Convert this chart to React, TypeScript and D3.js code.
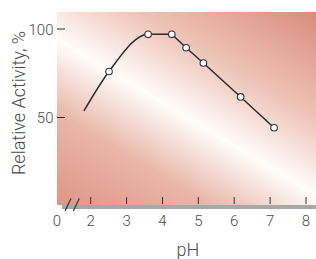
import { useEffect, useRef } from "react"
import { select, scaleLinear, line, curveMonotoneX, curveLinear } from "d3"

// pH on x, relative activity (%) on y
const risePH = [1.81, 2.51, 3.6, 4.26]
const riseActivity = [53.7, 76, 97, 97]
const fallPH = [4.26, 4.66, 5.14, 6.18, 7.11]
const fallActivity = [97, 89.4, 80.8, 61.6, 44.2]
const markerPH = [2.51, 3.6, 4.26, 4.66, 5.14, 6.18, 7.11]
const markerActivity = [76, 97, 97, 89.4, 80.8, 61.6, 44.2]
const xTicks = [2, 3, 4, 5, 6, 7, 8]
const yTicks = [50, 100]

const App = () => {
  const svgRef = useRef<SVGSVGElement>(null)

  useEffect(() => {
    const width = 316
    const left = 57
    const top = 12
    const bottom = 205
    const font = "Roboto, 'Liberation Sans', Arial, sans-serif"

    const svg = select(svgRef.current)
    svg.selectAll("*").remove()

    const x = scaleLinear().domain([2, 8]).range([90.7, 306])
    const y = scaleLinear().domain([0, 100]).range([206, 29])

    // diagonal background gradient with a white streak
    const cx = 183, cy = 115
    const nx = 0.515, ny = -0.858, d = 160
    const grad = svg.append("defs").append("linearGradient")
      .attr("id", "bg")
      .attr("gradientUnits", "userSpaceOnUse")
      .attr("x1", cx - nx * d).attr("y1", cy - ny * d)
      .attr("x2", cx + nx * d).attr("y2", cy + ny * d)
    const stops: [number, string][] = [
      [0, "#db8e7d"], [0.3, "#e9b6a8"], [0.5, "#fffcfa"], [0.7, "#eec4b8"], [1, "#d98a79"]
    ]
    stops.forEach(([o, c]) => grad.append("stop").attr("offset", o).attr("stop-color", c))

    svg.append("rect")
      .attr("x", left).attr("y", top)
      .attr("width", width - left).attr("height", bottom - top)
      .attr("fill", "url(#bg)")

    // gray x axis bar
    svg.append("rect")
      .attr("x", 62).attr("y", bottom)
      .attr("width", width - 62).attr("height", 4)
      .attr("fill", "#a8a8aa")

    // axis break
    ;[65, 73.3].forEach(bx => {
      svg.append("line")
        .attr("x1", bx).attr("y1", 211).attr("x2", bx + 6).attr("y2", 198.5)
        .attr("stroke", "#333").attr("stroke-width", 1.2)
    })

    svg.selectAll(".xtick").data(xTicks).join("line")
      .attr("class", "xtick")
      .attr("x1", d => x(d)).attr("x2", d => x(d))
      .attr("y1", 197).attr("y2", 204)
      .attr("stroke", "#333").attr("stroke-width", 1)

    const label = (sel: any, size: number) =>
      sel.style("font-family", font).style("font-size", size + "px")
        .style("font-weight", 300).attr("fill", "#4a4a4a")

    svg.selectAll(".xlabel").data(xTicks).join("text")
      .attr("class", "xlabel")
      .attr("x", d => x(d)).attr("y", 225.5)
      .attr("text-anchor", "middle")
      .call(label, 15)
      .text(d => d)

    svg.append("text")
      .attr("x", left).attr("y", 225.5)
      .attr("text-anchor", "middle")
      .call(label, 15)
      .text("0")

    svg.selectAll(".ytick").data(yTicks).join("line")
      .attr("class", "ytick")
      .attr("x1", left).attr("x2", 65)
      .attr("y1", d => y(d)).attr("y2", d => y(d))
      .attr("stroke", "#333").attr("stroke-width", 1)

    svg.selectAll(".ylabel").data(yTicks).join("text")
      .attr("class", "ylabel")
      .attr("x", 53.5).attr("y", d => y(d) + 5.5)
      .attr("text-anchor", "end")
      .call(label, 15)
      .text(d => d)

    svg.append("text")
      .attr("x", 187.8).attr("y", 256)
      .attr("text-anchor", "middle")
      .call(label, 18)
      .text("pH")

    svg.append("text")
      .attr("transform", "translate(24.5,103) rotate(-90)")
      .attr("text-anchor", "middle")
      .call(label, 18)
      .text("Relative Activity, %")

    const riseLine = line<number>()
      .x(d => x(risePH[d]))
      .y(d => y(riseActivity[d]))
      .curve(curveMonotoneX)
    const fallLine = line<number>()
      .x(d => x(fallPH[d]))
      .y(d => y(fallActivity[d]))
      .curve(curveLinear)

    svg.append("path")
      .attr("d", riseLine(risePH.map((_, i) => i)))
      .attr("fill", "none").attr("stroke", "#2b2b2b").attr("stroke-width", 1.5)
    svg.append("path")
      .attr("d", fallLine(fallPH.map((_, i) => i)))
      .attr("fill", "none").attr("stroke", "#2b2b2b").attr("stroke-width", 1.5)

    svg.selectAll(".pt").data(markerPH).join("circle")
      .attr("class", "pt")
      .attr("cx", d => x(d))
      .attr("cy", (d, i) => y(markerActivity[i]))
      .attr("r", 3.3)
      .attr("fill", "#fff").attr("stroke", "#333").attr("stroke-width", 1.1)
  }, [])

  return (
    <svg ref={svgRef} width={316} height={259}
      style={{ position: "absolute", left: 0, top: 0 }} />
  )
}

export default App
